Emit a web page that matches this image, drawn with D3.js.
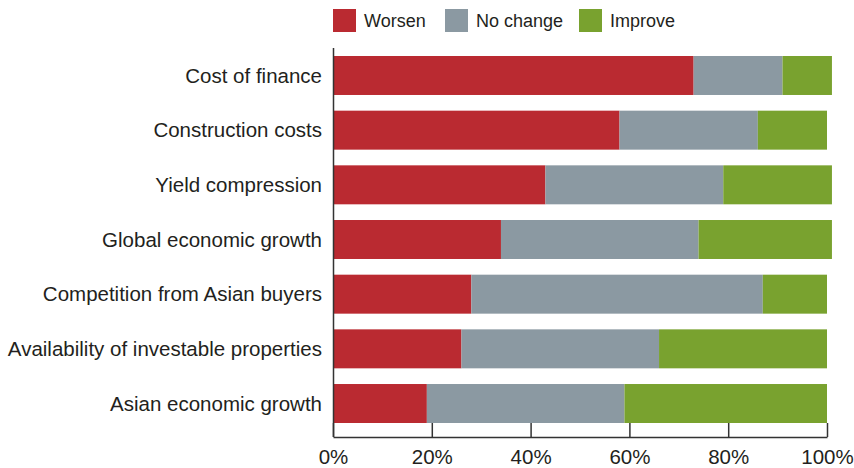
<!DOCTYPE html>
<html>
<head>
<meta charset="utf-8">
<script src="https://cdn.jsdelivr.net/npm/d3@7.9.0/dist/d3.min.js"></script>
<style>
  body { margin: 0; background: #fff; }
  svg { display: block; font-family: "Liberation Sans", Arial, sans-serif; }
  .label { font-size: 18px; fill: #231f20; }
  .cat { font-size: 20.5px; fill: #231f20; }
</style>
</head>
<body>
<svg width="854" height="468"></svg>
<script>
const categories = [
  'Cost of finance',
  'Construction costs',
  'Yield compression',
  'Global economic growth',
  'Competition from Asian buyers',
  'Availability of investable properties',
  'Asian economic growth',
];
const seriesNames = ['Worsen', 'No change', 'Improve'];
const worsen = [73, 58, 43, 34, 28, 26, 19];
const noChange = [18, 28, 36, 40, 59, 40, 40];
const improve = [10, 14, 22, 27, 13, 34, 41];
const tickValues = [0, 20, 40, 60, 80, 100];

const rows = categories.map((c, i) => ({
  category: c,
  'Worsen': worsen[i],
  'No change': noChange[i],
  'Improve': improve[i],
}));

const colors = d3.scaleOrdinal()
  .domain(seriesNames)
  .range(['#ba2a31', '#8b99a2', '#79a22f']);

const svg = d3.select('svg');

const x = d3.scaleLinear().domain([0, 100]).range([333, 827]);
const y = d3.scaleBand()
  .domain(categories)
  .range([56, 423])
  .paddingInner(0.287)
  .paddingOuter(0);

const stacked = d3.stack().keys(seriesNames)(rows);

svg.append('g')
  .selectAll('g')
  .data(stacked)
  .join('g')
  .attr('fill', (d) => colors(d.key))
  .selectAll('rect')
  .data((d) => d)
  .join('rect')
  .attr('x', (d) => x(d[0]) + (d[0] === 0 ? 1 : 0))
  .attr('width', (d) => x(d[1]) - x(d[0]) - (d[0] === 0 ? 1 : 0))
  .attr('y', (d) => y(d.data.category))
  .attr('height', y.bandwidth());

// category labels
svg.append('g')
  .selectAll('text')
  .data(categories)
  .join('text')
  .attr('class', 'cat')
  .attr('x', 322)
  .attr('y', (d) => y(d) + y.bandwidth() / 2)
  .attr('dy', '0.35em')
  .attr('text-anchor', 'end')
  .text((d) => d);

// vertical axis line
svg.append('line')
  .attr('x1', 333.5).attr('x2', 333.5)
  .attr('y1', 48).attr('y2', 437)
  .attr('stroke', '#333')
  .attr('stroke-width', 1.5);

// bottom axis
const xAxis = svg.append('g')
  .attr('transform', 'translate(0,437)')
  .call(d3.axisBottom(x)
    .tickValues(tickValues)
    .tickFormat((d) => d + '%')
    .tickSizeInner(-14)
    .tickSizeOuter(0)
    .tickPadding(12));
xAxis.select('.domain').attr('stroke', '#333').attr('stroke-width', 1.5);
xAxis.selectAll('.tick line').attr('stroke', '#333').attr('stroke-width', 1.5);
xAxis.selectAll('.tick text')
  .attr('fill', '#231f20')
  .style('font-size', '20.5px')
  .style('font-family', '"Liberation Sans", Arial, sans-serif');

// legend
const legendX = [333, 445, 579];
const legend = svg.append('g')
  .selectAll('g')
  .data(seriesNames)
  .join('g')
  .attr('transform', (d, i) => `translate(${legendX[i]},9)`);
legend.append('rect')
  .attr('width', 23)
  .attr('height', 23)
  .attr('fill', (d) => colors(d));
legend.append('text')
  .attr('class', 'label')
  .attr('x', 31)
  .attr('y', 11.5)
  .attr('dy', '0.35em')
  .text((d) => d);
</script>
</body>
</html>
